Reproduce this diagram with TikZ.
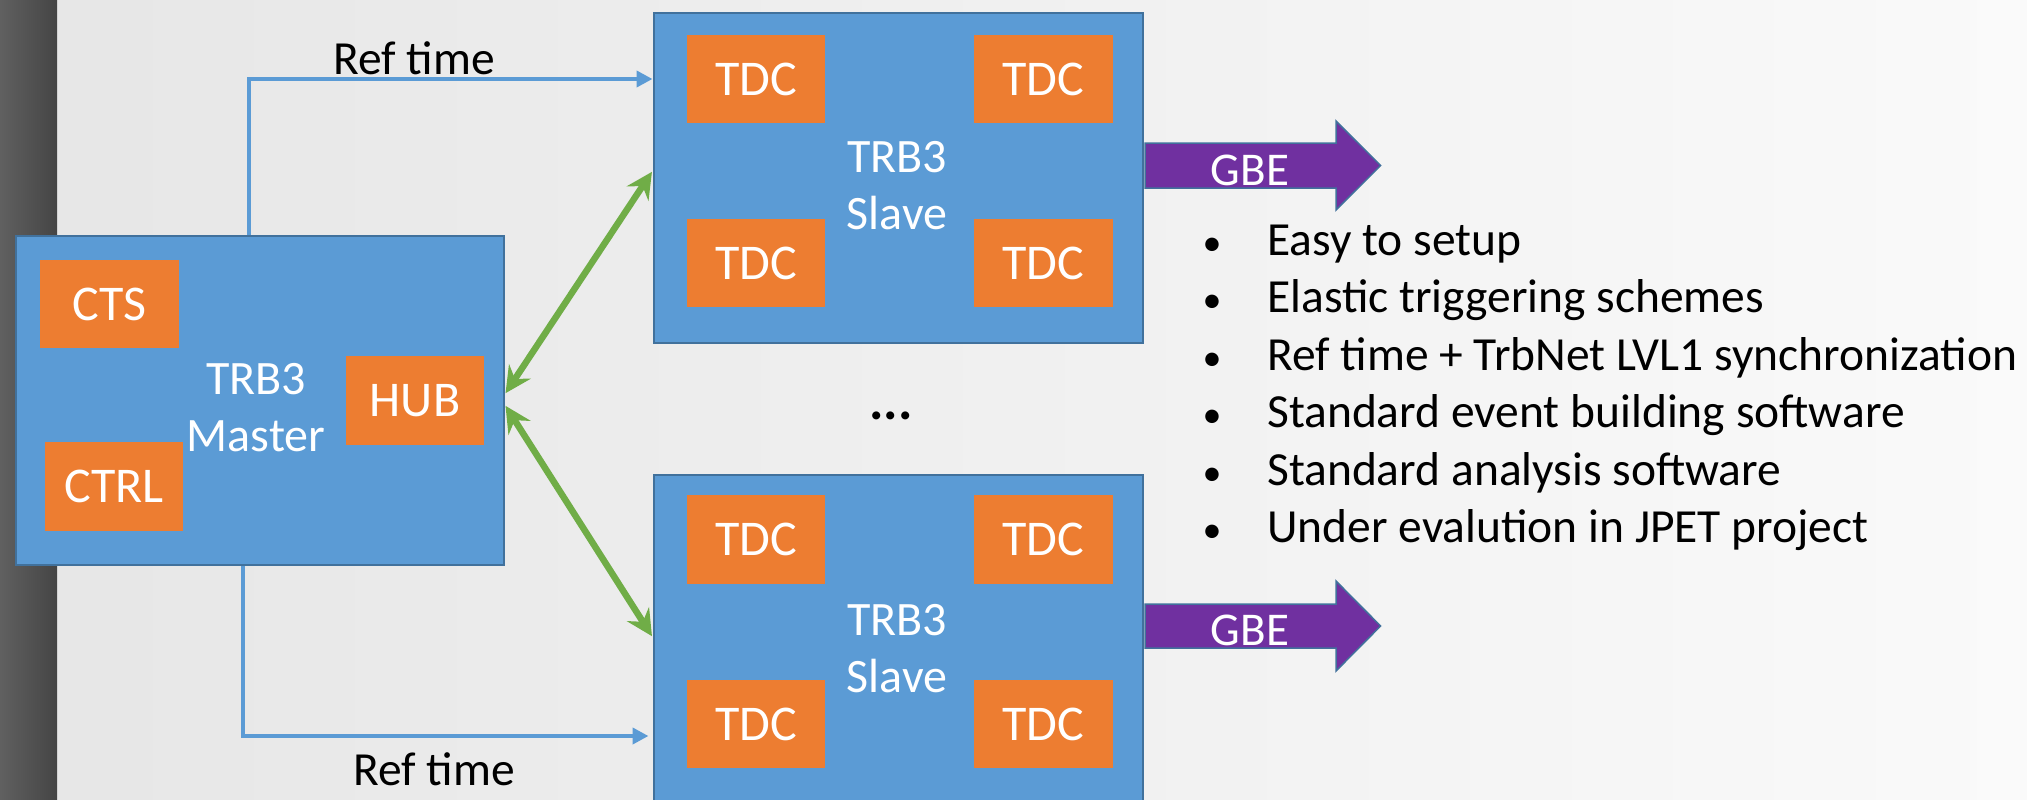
\documentclass[tikz,border=0pt]{standalone}
\usepackage{fontspec}
\setmainfont{Carlito}
\usetikzlibrary{arrows.meta}
\definecolor{boxblue}{HTML}{5B9BD5}
\definecolor{boxedge}{HTML}{41719C}
\definecolor{chipcol}{HTML}{ED7D31}
\definecolor{gbecol}{HTML}{7030A0}
\definecolor{greenlink}{HTML}{70AD47}
\definecolor{bgleft}{HTML}{E6E6E6}
\definecolor{bgright}{HTML}{FAFAFA}
\definecolor{stripl}{HTML}{606060}
\definecolor{stripr}{HTML}{454545}
\begin{document}
\begin{tikzpicture}[x=1pt,y=-1pt,
  board/.style={draw=boxedge, line width=2pt, fill=boxblue, minimum width=489pt, minimum height=329pt, inner sep=0pt},
  chipbox/.style={fill=chipcol, minimum width=138.5pt, minimum height=88.5pt, inner sep=0pt, text=white, font=\fontsize{50}{54}\selectfont},
  boardlabel/.style={text=white, align=center, inner sep=0pt, font=\fontsize{48}{57}\selectfont},
  reftime/.style={draw=boxblue, line width=4.5pt, -{Triangle[length=16pt,width=16pt]}},
  hublink/.style={draw=greenlink, line width=6.5pt, {Stealth[length=26pt,width=26pt,inset=9pt]}-{Stealth[length=26pt,width=26pt,inset=9pt]}, shorten <=1pt, shorten >=1pt},
  gbearrow/.style={draw=boxedge, line width=1.5pt, fill=gbecol},
  gbetext/.style={text=white, inner sep=0pt, font=\fontsize{47}{52}\selectfont},
  plaintext/.style={text=black, inner sep=0pt, font=\fontsize{47.5}{52}\selectfont},
  bulletdot/.style={text=black, inner sep=0pt, font=\fontsize{38}{52}\selectfont},
]
% background
\useasboundingbox (0,0) rectangle (2027,800);
\shade[left color=bgleft, right color=bgright] (0,0) rectangle (2027,800);
\shade[left color=stripl, right color=stripr] (0,0) rectangle (57,800);

% master board
\node[board, minimum width=488pt] (master) at (260,400.5) {};
\node[chipbox] (cts) at (109.5,304) {CTS};
\node[chipbox] (ctrl) at (114,486.5) {CTRL};
\node[chipbox] (hub) at (415,400.5) {HUB};
\node[boardlabel] (mlabel) at (256,408) {TRB3\\Master};

% slave boards
\node[board] (slave1) at (898,178) {};
\node[chipbox] (t1a) at (756,79) {TDC};
\node[chipbox] (t1b) at (1043.5,79) {TDC};
\node[chipbox] (t1c) at (756,263) {TDC};
\node[chipbox] (t1d) at (1043.5,263) {TDC};
\node[boardlabel] (s1label) at (897,186) {TRB3\\Slave};

\node[board] (slave2) at (898,639.5) {};
\node[chipbox] (t2a) at (756,539.5) {TDC};
\node[chipbox] (t2b) at (1043.5,539.5) {TDC};
\node[chipbox] (t2c) at (756,724) {TDC};
\node[chipbox] (t2d) at (1043.5,724) {TDC};
\node[boardlabel] (s2label) at (897,649) {TRB3\\Slave};

\node[plaintext, font=\fontsize{54}{58}\selectfont\bfseries] (dots) at (891,416) {...};

% ref time connectors
\draw[reftime] ([xshift=-11pt]master.north) |- ([yshift=99pt]slave1.west);
\draw[reftime] ([xshift=-17pt]master.south) |- ([yshift=-96.5pt,xshift=-4pt]slave2.west);
\node[plaintext, anchor=base] (rt1) at (414,74.6) {Ref time};
\node[plaintext, anchor=base] (rt2) at (434,785) {Ref time};

% hub links
\draw[hublink] ([yshift=6.5pt]master.east) -- ([yshift=7pt]slave1.west);
\draw[hublink] ([yshift=-4.5pt]master.east) -- ([yshift=2.5pt]slave2.west);

% GBE arrows
\path[gbearrow] (1145,143) -- (1336,143) -- (1336,121) -- (1380.6,165.5) -- (1336,210) -- (1336,188) -- (1145,188) -- cycle;
\node[gbetext] (gbe1) at (1250,170) {GBE};
\path[gbearrow] (1145,604) -- (1336,604) -- (1336,581) -- (1380.6,626) -- (1336,671) -- (1336,648) -- (1145,648) -- cycle;
\node[gbetext] (gbe2) at (1250,630) {GBE};

% bullet list
\foreach \y/\t [count=\i] in {255/Easy to setup, 312.5/Elastic triggering schemes, 370/Ref time + TrbNet LVL1 synchronization, 427.5/Standard event building software, 485/Standard analysis software, 542.5/Under evalution in JPET project}{
  \node[bulletdot, anchor=base] (dot\i) at (1212,\y) {•};
  \node[plaintext, anchor=base west] (item\i) at (1267,\y) {\t};
}
\end{tikzpicture}
\end{document}
